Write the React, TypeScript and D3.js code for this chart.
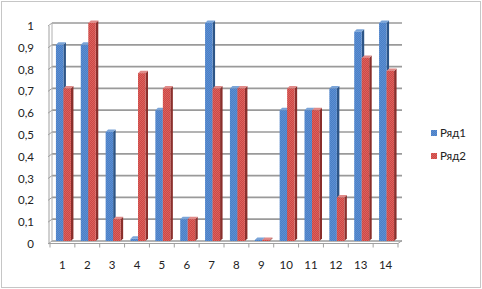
import React from "react";
import * as d3 from "d3";

const categories = ["1","2","3","4","5","6","7","8","9","10","11","12","13","14"];
const series1 = [0.9, 0.9, 0.5, 0.01, 0.6, 0.1, 1, 0.7, 0.005, 0.6, 0.6, 0.7, 0.96, 1];
const series2 = [0.7, 1, 0.1, 0.77, 0.7, 0.1, 0.7, 0.7, 0.005, 0.7, 0.6, 0.2, 0.84, 0.78];
const seriesNames = ["Ряд1", "Ряд2"];
const yTicks = [0, 0.1, 0.2, 0.3, 0.4, 0.5, 0.6, 0.7, 0.8, 0.9, 1];

const W = 482, H = 289;
const font = "Lato, 'Open Sans', sans-serif";

export default function App() {
  const x = d3.scaleBand<string>().domain(categories).range([50, 398]);
  const y = d3.scaleLinear().domain([0, 1]).range([241, 23]);
  const sub = d3.scaleBand<string>().domain(seriesNames).range([-6.5, 8.5]).paddingInner(0);
  const depth = 2.5;
  const colors = [
    { front: "url(#blueDither)", top: "#7aa4d8", side: "#2d5587" },
    { front: "url(#redDither)", top: "#e08a88", side: "#8a2f2c" },
  ];
  const data = [series1, series2];
  const bw = sub.bandwidth();

  return (
    <svg width={W} height={H} style={{ position: "absolute", left: 0, top: 0, background: "#fff" }}>
      <defs>
        <pattern id="blueDither" width="2" height="2" patternUnits="userSpaceOnUse">
          <rect width="2" height="2" fill="#4a7fc6" />
          <rect width="1" height="1" fill="#5d8fd2" />
          <rect x="1" y="1" width="1" height="1" fill="#5d8fd2" />
        </pattern>
        <pattern id="redDither" width="2" height="2" patternUnits="userSpaceOnUse">
          <rect width="2" height="2" fill="#cc4845" />
          <rect width="1" height="1" fill="#dc625e" />
          <rect x="1" y="1" width="1" height="1" fill="#dc625e" />
        </pattern>
      </defs>
      <rect x={1.5} y={1.5} width={W - 3} height={H - 3} fill="#fff" stroke="#8c8c8c" strokeDasharray="1,1" />
      {/* back wall gridlines */}
      {yTicks.map((t) => (
        <g key={"g" + t}>
          <line x1={52} x2={402} y1={y(t)} y2={y(t)} stroke="#9a9a9a" strokeWidth={1.7} />
          <line x1={48} x2={52} y1={y(t) + 3} y2={y(t)} stroke="#a0a0a0" strokeWidth={1} />
          <text x={34} y={y(t) + 3} dy="0.35em" textAnchor="end" fontFamily={font} fontSize={11.5} fill="#222">
            {String(t).replace(".", ",")}
          </text>
        </g>
      ))}
      <line x1={52} x2={52} y1={y(1)} y2={y(0)} stroke="#b0b0b0" strokeWidth={1} />
      <line x1={49} x2={49} y1={y(1) + 3} y2={y(0) + 3} stroke="#a0a0a0" strokeWidth={1} />
      {/* bars */}
      {categories.map((c, i) => {
        const cx = (x(c) as number) + x.bandwidth() / 2;
        return (
          <g key={c}>
            {data.map((s, si) => {
              const x0 = cx + (sub(seriesNames[si]) as number);
              const yt = y(s[i]);
              const yb = y(0);
              const col = colors[si];
              return (
                <g key={si}>
                  <polygon
                    points={`${x0 + bw},${yt} ${x0 + bw + depth},${yt - depth} ${x0 + bw + depth},${yb - depth} ${x0 + bw},${yb}`}
                    fill={col.side}
                  />
                  <polygon
                    points={`${x0},${yt} ${x0 + depth},${yt - depth} ${x0 + bw + depth},${yt - depth} ${x0 + bw},${yt}`}
                    fill={col.top}
                  />
                  <rect x={x0} y={yt} width={bw} height={Math.max(0.8, yb - yt)} fill={col.front} />
                </g>
              );
            })}
          </g>
        );
      })}
      {/* floor front line and ticks */}
      <line x1={48} x2={398} y1={243.5} y2={243.5} stroke="#a0a0a0" strokeWidth={1.2} />
      <line x1={398} x2={402} y1={243.5} y2={240.5} stroke="#a0a0a0" strokeWidth={1} />
      {categories.concat(["end"]).map((c, i) => {
        const bx = 50 + i * x.bandwidth();
        return <line key={"t" + i} x1={bx} x2={bx} y1={243.5} y2={247.5} stroke="#a0a0a0" strokeWidth={1} />;
      })}
      {categories.map((c) => (
        <text key={"l" + c} x={(x(c) as number) + x.bandwidth() / 2} y={265} dy="0.35em" textAnchor="middle" fontFamily={font} fontSize={11.5} fill="#222">
          {c}
        </text>
      ))}
      {/* legend */}
      {seriesNames.map((n, i) => (
        <g key={n} transform={`translate(431, ${130 + i * 23})`}>
          <rect x={0} y={0} width={6} height={6} fill={i === 0 ? "url(#blueDither)" : "url(#redDither)"} />
          <text x={9} y={3} dy="0.35em" fontFamily={font} fontSize={11.5} fill="#222">{n}</text>
        </g>
      ))}
    </svg>
  );
}
